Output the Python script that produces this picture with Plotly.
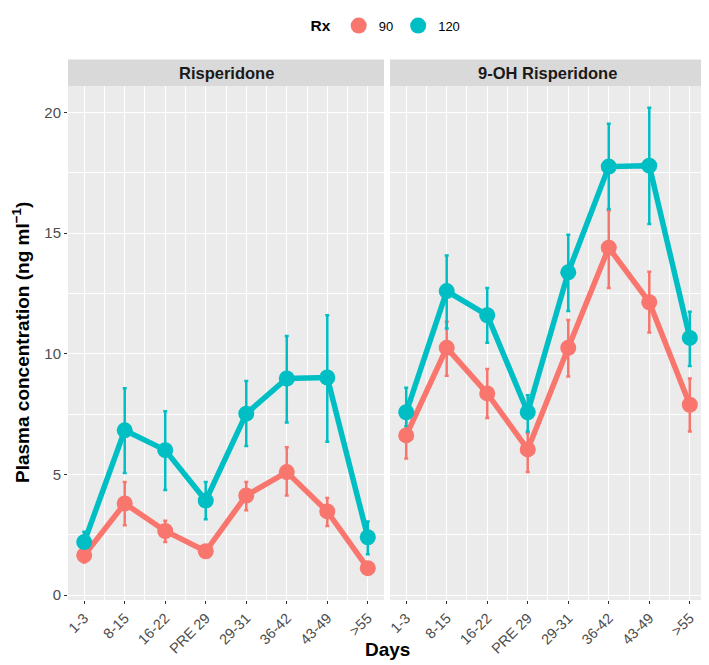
import plotly.graph_objects as go

days = ["1-3", "8-15", "16-22", "PRE 29", "29-31", "36-42", "43-49", ">55"]
xpos = [1, 2, 3, 4, 5, 6, 7, 8]
panels = ["Risperidone", "9-OH Risperidone"]
groups = ["90", "120"]
colors = {"90": "#F8766D", "120": "#00BFC4"}

# Risperidone
risp_90_mean = [1.65, 3.80, 2.66, 1.82, 4.13, 5.10, 3.47, 1.12]
risp_90_low = [1.35, 2.90, 2.20, 1.58, 3.52, 4.13, 2.87, 0.92]
risp_90_high = [1.95, 4.69, 3.08, 2.05, 4.69, 6.13, 4.03, 1.30]
risp_120_mean = [2.20, 6.83, 6.01, 3.92, 7.52, 8.98, 9.02, 2.40]
risp_120_low = [1.90, 5.06, 4.36, 3.15, 6.18, 7.16, 6.36, 1.70]
risp_120_high = [2.63, 8.57, 7.62, 4.69, 8.88, 10.74, 11.60, 3.05]

# 9-OH Risperidone
oh_90_mean = [6.62, 10.25, 8.36, 6.04, 10.25, 14.40, 12.14, 7.89]
oh_90_low = [5.66, 9.09, 7.34, 5.10, 9.06, 12.73, 10.88, 6.78]
oh_90_high = [7.50, 11.33, 9.37, 6.71, 11.40, 15.94, 13.40, 8.98]
oh_120_mean = [7.58, 12.60, 11.60, 7.58, 13.38, 17.76, 17.80, 10.66]
oh_120_low = [7.00, 11.05, 10.46, 6.78, 11.78, 16.00, 15.38, 9.50]
oh_120_high = [8.60, 14.08, 12.73, 8.28, 14.94, 19.54, 20.20, 11.75]

data = {
    ("Risperidone", "90"): (risp_90_mean, risp_90_low, risp_90_high),
    ("Risperidone", "120"): (risp_120_mean, risp_120_low, risp_120_high),
    ("9-OH Risperidone", "90"): (oh_90_mean, oh_90_low, oh_90_high),
    ("9-OH Risperidone", "120"): (oh_120_mean, oh_120_low, oh_120_high),
}

FONT = "Liberation Sans, Arial, Helvetica, sans-serif"
fig = go.Figure()

for pi, panel in enumerate(panels):
    xa = "x" if pi == 0 else "x2"
    ya = "y" if pi == 0 else "y2"
    # error bars layer
    for g in groups:
        m, lo, hi = data[(panel, g)]
        fig.add_trace(go.Scatter(
            x=xpos, y=m, mode="markers", xaxis=xa, yaxis=ya,
            marker=dict(size=1, color=colors[g], opacity=0),
            error_y=dict(type="data", symmetric=False,
                         array=[h - v for h, v in zip(hi, m)],
                         arrayminus=[v - l for v, l in zip(m, lo)],
                         color=colors[g], thickness=2.5, width=2),
            showlegend=False, hoverinfo="skip"))
    # lines + points
    for g in groups:
        m, lo, hi = data[(panel, g)]
        fig.add_trace(go.Scatter(
            x=xpos, y=m, mode="lines+markers", xaxis=xa, yaxis=ya,
            line=dict(color=colors[g], width=5.5),
            marker=dict(color=colors[g], size=16),
            name=g, legendgroup=g, showlegend=False))

# legend-only keys
for g in groups:
    fig.add_trace(go.Scatter(
        x=[None], y=[None], mode="markers", name=g, legendgroup=g,
        marker=dict(color=colors[g], size=18), showlegend=True))

grid_major = dict(showgrid=True, gridcolor="white", gridwidth=1.1)
xcommon = dict(
    range=[0.6, 8.4], tickmode="array", tickvals=xpos, ticktext=days,
    tickangle=-45, ticks="outside", ticklen=3, tickcolor="#333333",
    tickfont=dict(family=FONT, size=14.5, color="#4D4D4D"),
    zeroline=False, showline=False,
    minor=dict(tickmode="array", tickvals=[1.5, 2.5, 3.5, 4.5, 5.5, 6.5, 7.5],
               showgrid=True, gridcolor="white", gridwidth=0.5, ticks=""),
    **grid_major)
ycommon = dict(
    range=[-0.2, 21.1], tickmode="array", tickvals=[0, 5, 10, 15, 20],
    zeroline=False, showline=False,
    minor=dict(tickmode="array", tickvals=[2.5, 7.5, 12.5, 17.5],
               showgrid=True, gridcolor="white", gridwidth=0.5, ticks=""),
    **grid_major)

fig.update_layout(
    width=701, height=657,
    margin=dict(l=60, r=3, t=68, b=65),
    paper_bgcolor="white", plot_bgcolor="#EBEBEB",
    font=dict(family=FONT, color="black"),
    xaxis=dict(domain=[0, 0.4953], anchor="y", **xcommon),
    xaxis2=dict(domain=[0.5047, 1], anchor="y2", **xcommon),
    yaxis=dict(domain=[0, 1], anchor="x", ticks="outside", ticklen=3,
               tickcolor="#333333",
               tickfont=dict(family=FONT, size=15, color="#4D4D4D"),
               **ycommon),
    yaxis2=dict(domain=[0, 1], anchor="x2", showticklabels=False, ticks="",
                **ycommon),
    legend=dict(orientation="h", x=0.5, xanchor="center", y=1.1164,
                yanchor="middle",
                title=dict(text="<b>Rx</b>", font=dict(family=FONT, size=15.5)),
                font=dict(family=FONT, size=13, color="black"),
                itemwidth=30, bgcolor="rgba(0,0,0,0)"),
    showlegend=True,
)

# facet strips
strip_h = 27 / 524
for pi, panel in enumerate(panels):
    xref = "x domain" if pi == 0 else "x2 domain"
    fig.add_shape(type="rect", xref=xref, yref="paper", x0=0, x1=1,
                  y0=1, y1=1 + strip_h, fillcolor="#D9D9D9", line=dict(width=0),
                  layer="below")
    fig.add_annotation(xref=xref, yref="paper", x=0.5, y=1 + strip_h / 2,
                       text="<b>" + panel + "</b>", showarrow=False,
                       font=dict(family=FONT, size=16.5, color="#1A1A1A"),
                       xanchor="center", yanchor="middle")

# y axis title
fig.add_annotation(xref="paper", yref="paper", x=-47 / 638, y=0.5,
                   text="<b>Plasma concentration (ng ml<sup>−1</sup>)</b>",
                   textangle=-90, showarrow=False,
                   font=dict(family=FONT, size=19, color="black"),
                   xanchor="center", yanchor="middle")

# x axis title
fig.add_annotation(xref="paper", yref="paper", x=0.5, y=-0.0954,
                   text="<b>Days</b>", showarrow=False,
                   font=dict(family=FONT, size=19, color="black"),
                   xanchor="center", yanchor="middle")

fig.write_html("out.html")
